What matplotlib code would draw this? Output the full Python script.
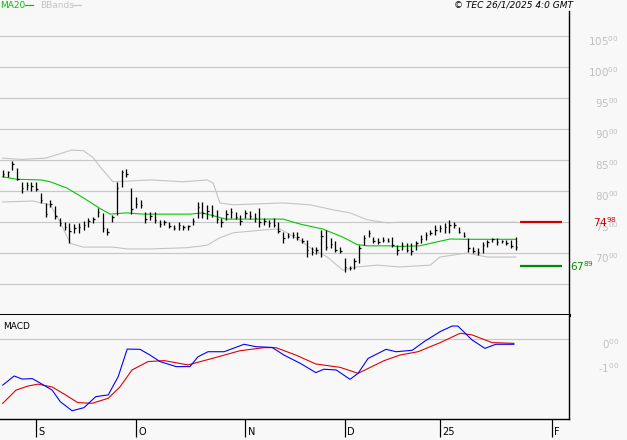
import numpy as np
import matplotlib
matplotlib.use('Agg')
import matplotlib.pyplot as plt
from matplotlib.lines import Line2D
from matplotlib import transforms

# barras diarias (indice de rueda, 22/08/2024 .. 24/01/2025)
highs = [83.4, 83.2, 84.8, 83.7, 81.5, 81.5, 81.5, 81.5, 79.7, 78.1,
         78.6, 77.6, 75.6, 75.0, 74.9, 74.7, 74.9, 75.2, 75.7, 75.8,
         77.3, 76.5, 74.1, 76.2, 81.5, 83.4, 83.5, 80.5, 79.0, 78.5,
         76.6, 76.6, 76.6, 75.4, 75.4, 75.0, 74.5, 75.0, 74.5, 74.5,
         75.7, 78.3, 78.2, 77.8, 77.8, 77.0, 75.7, 77.0, 77.3, 76.6,
         76.2, 77.0, 76.8, 76.5, 77.3, 75.7, 75.4, 75.7, 75.0, 73.4,
         73.2, 73.4, 73.4, 72.4, 72.1, 71.0, 71.0, 73.7, 73.7, 72.5,
         71.9, 71.0, 69.3, 67.9, 69.2, 71.3, 72.9, 73.7, 72.6, 72.4,
         72.6, 72.4, 72.6, 71.3, 71.8, 71.6, 71.6, 71.9, 72.9, 73.4,
         73.7, 74.5, 74.5, 74.8, 75.4, 75.0, 74.2, 73.4, 72.5, 71.0,
         70.8, 71.8, 72.1, 72.5, 72.5, 72.1, 72.1, 72.1, 72.6]
lows = [82.3, 82.3, 83.4, 81.8, 79.7, 80.2, 80.0, 80.0, 78.1, 75.8,
        77.4, 75.5, 74.4, 73.7, 71.7, 73.3, 73.3, 73.8, 74.2, 74.9,
        75.8, 73.4, 72.9, 75.0, 76.2, 80.7, 82.3, 76.4, 77.3, 77.3,
        74.9, 75.3, 74.9, 74.2, 74.6, 74.0, 73.7, 73.7, 73.7, 73.7,
        74.5, 75.7, 75.6, 75.5, 75.8, 74.9, 74.2, 75.4, 75.7, 75.5,
        74.6, 75.7, 75.5, 75.0, 74.2, 74.6, 74.2, 74.2, 73.3, 71.6,
        72.4, 72.5, 72.2, 71.6, 69.4, 69.7, 69.9, 69.4, 70.5, 70.8,
        70.2, 70.0, 67.0, 67.3, 67.5, 68.4, 71.3, 72.6, 71.6, 71.5,
        71.8, 71.8, 71.0, 69.7, 70.5, 70.2, 69.7, 70.5, 71.6, 72.1,
        72.9, 72.9, 73.4, 73.2, 73.2, 74.1, 73.2, 72.6, 70.2, 70.0,
        69.7, 70.0, 71.0, 71.8, 71.3, 71.6, 71.3, 70.8, 70.5]
closes = [82.8, 83.0, 84.3, 82.0, 80.5, 81.0, 80.8, 80.3, 78.5, 76.3,
          78.0, 76.0, 74.8, 74.2, 73.6, 74.1, 74.3, 74.5, 75.2, 75.5,
          76.6, 74.0, 73.5, 75.8, 80.5, 83.0, 82.8, 77.2, 78.0, 77.8,
          75.5, 76.0, 75.3, 74.7, 75.0, 74.4, 74.0, 74.5, 74.2, 74.4,
          75.2, 77.5, 76.5, 76.8, 76.2, 75.5, 75.0, 76.3, 76.6, 75.9,
          75.2, 76.5, 76.0, 75.6, 75.0, 75.2, 74.8, 74.6, 73.6, 72.4,
          72.8, 73.0, 72.6, 71.9, 70.5, 70.2, 70.5, 72.8, 71.0, 71.5,
          70.6, 70.4, 67.8, 67.6, 68.8, 70.8, 72.5, 73.2, 72.0, 71.8,
          72.2, 72.0, 71.3, 70.5, 71.2, 70.6, 70.4, 71.6, 72.3, 73.0,
          73.3, 73.8, 74.0, 74.2, 74.6, 74.5, 73.5, 72.8, 70.8, 70.4,
          70.2, 71.3, 71.8, 72.3, 71.8, 71.9, 71.7, 71.2, 71.0]

# MA20 y bandas de Bollinger (indice, valor)
ma20_x = [0, 3, 8, 10, 13.5, 17, 20.5, 22.6, 26, 29.5, 39.5, 42, 45.5, 47,
          55.5, 59, 62.6, 67.4, 71.6, 74.6, 76.7, 81.5, 83.1, 87.8, 90.6,
          94.2, 97.7, 108]
ma20_y = [82.3, 81.9, 81.8, 81.5, 80.5, 78.9, 77.2, 76.3, 76.5, 76.3, 76.3,
          76.5, 75.8, 75.5, 75.5, 75.5, 74.7, 73.9, 72.6, 71.4, 71.2, 71.2,
          71.1, 71.2, 71.7, 72.3, 72.25, 72.25]

bbup_x = [0, 4, 9, 12, 14.5, 17, 19, 20.5, 23.2, 26.2, 31, 38, 43, 44.3,
          45.7, 48.5, 59, 64.7, 69.5, 73.1, 76.7, 80.9, 83.6, 108]
bbup_y = [85.3, 85.1, 85.3, 86.0, 86.6, 86.5, 85.4, 83.9, 81.5, 81.6, 81.8,
          81.5, 81.8, 81.3, 78.1, 77.8, 78.1, 77.8, 77.0, 76.5, 75.4, 74.9,
          75.0, 75.0]

bblo_x = [0, 6.4, 10, 12.1, 14.2, 16.9, 20.5, 23.2, 26.2, 31, 38.8, 43,
          45.7, 48.5, 55.6, 58.4, 62.6, 64.7, 68.3, 71.6, 74.6, 78.8, 83.6,
          90, 92, 97.7, 102, 108]
bblo_y = [78.25, 78.4, 77.8, 75.0, 71.6, 71.0, 71.0, 71.0, 70.7, 70.7, 70.9,
          71.3, 72.5, 73.3, 73.8, 73.9, 72.1, 70.9, 69.4, 67.3, 67.8, 68.1,
          67.8, 68.1, 69.4, 70.05, 69.4, 69.4]

# MACD (azul) y senial (rojo)
macd_x = [0, 2.4, 4.1, 6.2, 7.4, 10.4, 12.1, 14.6, 17.1, 19.6, 22.2, 24.3,
          26.2, 28.9, 31, 33.1, 36.5, 39.4, 41.1, 43.2, 46.6, 50.8, 53.3,
          56.7, 59.2, 62.6, 65.9, 67.6, 70.2, 73.1, 74.8, 76.9, 80.7, 82.8,
          86.2, 88.7, 92.1, 94.6, 95.8, 98.8, 101.5, 103.8, 107.6]
macd_y = [-1.92, -1.54, -1.67, -1.65, -1.78, -2.13, -2.61, -2.99, -2.86,
          -2.40, -2.33, -1.57, -0.42, -0.43, -0.67, -0.94, -1.15, -1.15,
          -0.74, -0.53, -0.53, -0.22, -0.32, -0.35, -0.67, -1.01, -1.40,
          -1.26, -1.29, -1.68, -1.43, -0.81, -0.43, -0.53, -0.47, -0.11,
          0.31, 0.54, 0.54, -0.04, -0.39, -0.22, -0.22]
sig_x = [0, 2.8, 5.3, 7.4, 10.4, 12.9, 15.8, 18.8, 22.2, 24.7, 27.2, 30.6,
         34, 39, 44.1, 49.9, 55, 57.5, 61.7, 65.9, 71, 74.8, 80.3, 83.6,
         87.4, 92.1, 96.3, 98.8, 103, 107.6]
sig_y = [-2.68, -2.13, -1.96, -1.88, -2.0, -2.29, -2.65, -2.68, -2.47, -1.99,
         -1.29, -0.94, -0.90, -1.08, -0.81, -0.49, -0.36, -0.36, -0.67,
         -1.04, -1.18, -1.43, -0.90, -0.67, -0.53, -0.15, 0.24, 0.17,
         -0.15, -0.18]

# resistencia / soporte
resistencia = 74.98
soporte = 67.89

months = ['S', 'O', 'N', 'D', '25', 'F']
month_pos = [7, 28, 51, 72, 92, 115.6]

price_ticks = [70, 75, 80, 85, 90, 95, 100, 105]
macd_ticks = [0, -1]

#############
# la figura #
#############
W, H = 627, 440
bg = '#f8f8f8'
grid_c = '#c8c8c8'
lbl_c = '#c0c0c0'
plt.rcParams['font.family'] = 'DejaVu Sans'


def etiqueta(v):
    # "105" normal y los decimales chicos arriba, con guion comun
    ent, dec = ('%.2f' % v).split('.')
    return ent + r'$\mathregular{^{%s}}$' % dec


fig = plt.figure(figsize=(W / 100, H / 100), dpi=100, facecolor=bg)
ax1 = fig.add_axes([0, 1 - 315 / H, 569 / W, (315 - 11) / H], facecolor=bg)
ax2 = fig.add_axes([0, 1 - 419 / H, 569 / W, (419 - 315) / H], facecolor=bg)

px = 0.72
n = len(closes)
idx = np.arange(n)

# grilla principal
for v in [65] + price_ticks:
    ax1.axhline(v, color=grid_c, lw=1.2 * px, zorder=0)

ax1.plot(bbup_x, bbup_y, color='#c4c4c4', lw=1.1 * px, zorder=1)
ax1.plot(bblo_x, bblo_y, color='#c4c4c4', lw=1.1 * px, zorder=1)
ax1.plot(ma20_x, ma20_y, color='#00c800', lw=1.1 * px, zorder=2)

ax1.vlines(idx, lows, highs, color='black', lw=1.3 * px, zorder=3)
ax1.hlines(closes, idx, idx + 0.35, color='black', lw=1.3 * px, zorder=3)

ax1.hlines(resistencia, 108.9, 117.7, color='#cc0000', lw=2.2 * px)
ax1.hlines(soporte, 108.9, 117.7, color='#008c00', lw=2.2 * px)

ax1.set_xlim(-0.58, 119.2)
ax1.set_ylim(60.08, 108.96)
ax2.set_xlim(-0.58, 119.2)
ax2.set_ylim(-3.333, 1.0)

# labels del eje de precios, 5 px abajo de cada linea
down5 = transforms.ScaledTranslation(0, -5 / 100, fig.dpi_scale_trans)
tr1 = transforms.blended_transform_factory(ax1.transAxes, ax1.transData) + down5
for v in price_ticks:
    ax1.text(619 / 569, v, etiqueta(v), transform=tr1,
             ha='right', va='center', color=lbl_c, fontsize=7.5, clip_on=False)

tr1b = transforms.blended_transform_factory(ax1.transAxes, ax1.transData)
ax1.text(617 / 569, resistencia, etiqueta(resistencia),
         transform=tr1b, ha='right', va='center', color='#cc0000',
         fontsize=7.5, clip_on=False)
ax1.text(570 / 569, soporte, etiqueta(soporte),
         transform=tr1b, ha='left', va='center', color='#008c00',
         fontsize=7.5, clip_on=False)

# MACD
ax2.axhline(0, color=grid_c, lw=1.2 * px, zorder=0)
ax2.plot(sig_x, sig_y, color='#e00000', lw=1.1 * px)
ax2.plot(macd_x, macd_y, color='#0000ff', lw=1.1 * px)
ax2.text(3 / 569, 0.89, 'MACD', transform=ax2.transAxes, fontsize=6.5,
         ha='left', va='center', color='black')

tr2 = transforms.blended_transform_factory(ax2.transAxes, ax2.transData) + down5
for v in macd_ticks:
    ax2.text(619 / 569, v, etiqueta(v), transform=tr2,
             ha='right', va='center', color=lbl_c, fontsize=7.5, clip_on=False)

# bordes
for ax in (ax1, ax2):
    ax.spines['left'].set_visible(False)
    ax.spines['top'].set_visible(False)
    ax.spines['right'].set_color('black')
    ax.spines['right'].set_linewidth(1.4 * px)
    ax.set_yticks([])
ax1.spines['bottom'].set_linewidth(3 * px)
ax2.spines['bottom'].set_linewidth(1.4 * px)
ax1.set_xticks([])

ax2.set_xticks(month_pos)
ax2.set_xticklabels([])
ax2.tick_params(axis='x', direction='out', length=18 * px, width=1.2 * px,
                color='black')
trx = transforms.blended_transform_factory(ax2.transData, fig.transFigure)
for m, p in zip(months, month_pos):
    ax2.text(p, 1 - 432 / H, m, transform=trx + transforms.ScaledTranslation(
        2.5 / 100, 0, fig.dpi_scale_trans), ha='left', va='center',
        fontsize=7, color='black', clip_on=False)

# leyenda superior
fig.text(0 / W, 1 - 5 / H, 'MA20', color='#00c800', fontsize=6.5,
         ha='left', va='center')
fig.add_artist(Line2D([25 / W, 33 / W], [1 - 5 / H, 1 - 5 / H],
                      color='#00c800', lw=1.2 * px))
fig.text(40 / W, 1 - 5 / H, 'BBands', color='#c4c4c4', fontsize=6.5,
         ha='left', va='center')
fig.add_artist(Line2D([72 / W, 81 / W], [1 - 5 / H, 1 - 5 / H],
                      color='#c4c4c4', lw=1.2 * px))
fig.text(573 / W, 1 - 5 / H, '© TEC 26/1/2025 4:0 GMT', color='black',
         fontsize=6.5, style='italic', ha='right', va='center')

fig.savefig('out.png', dpi=100, facecolor=bg)
